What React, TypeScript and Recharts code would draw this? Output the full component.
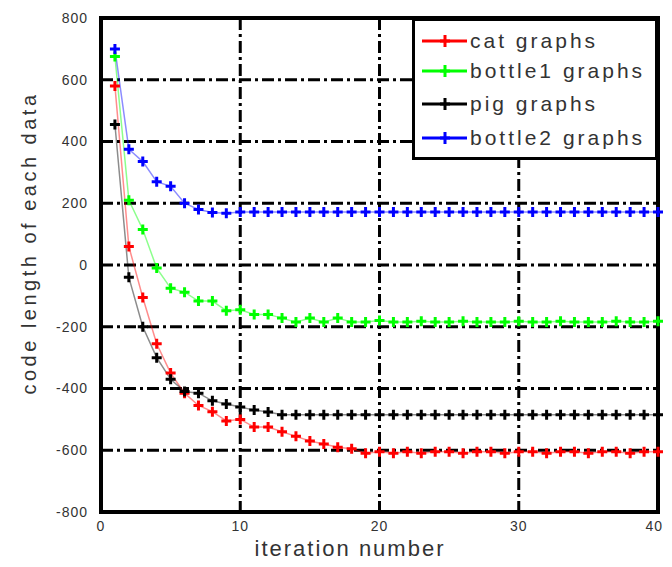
import React from "react";
import {
  LineChart,
  Line,
  XAxis,
  YAxis,
  CartesianGrid,
  ReferenceArea,
} from "recharts";

const iterations = [
  1, 2, 3, 4, 5, 6, 7, 8, 9, 10, 11, 12, 13, 14, 15, 16, 17, 18, 19, 20,
  21, 22, 23, 24, 25, 26, 27, 28, 29, 30, 31, 32, 33, 34, 35, 36, 37, 38, 39, 40,
];

const catGraphs = [
  580, 60, -105, -255, -350, -415, -455, -475, -505, -500,
  -525, -525, -540, -555, -570, -580, -590, -595, -610, -605,
  -610, -605, -610, -605, -605, -610, -605, -605, -610, -605,
  -605, -610, -605, -605, -610, -605, -605, -610, -605, -605,
];

const bottle1Graphs = [
  675, 210, 115, -10, -75, -88, -117, -117, -148, -145,
  -160, -160, -172, -185, -172, -185, -172, -185, -185, -180,
  -185, -185, -182, -185, -185, -182, -185, -185, -185, -182,
  -185, -185, -182, -185, -185, -185, -182, -185, -185, -182,
];

const pigGraphs = [
  455, -40, -200, -300, -370, -410, -415, -440, -450, -460,
  -470, -476, -485, -485, -485, -485, -485, -485, -485, -485,
  -485, -485, -485, -485, -485, -485, -485, -485, -485, -485,
  -485, -485, -485, -485, -485, -485, -485, -485, -485, -485,
];

const bottle2Graphs = [
  700, 375, 335, 270, 255, 200, 180, 170, 168, 172,
  172, 172, 172, 172, 172, 172, 172, 172, 172, 172,
  172, 172, 172, 172, 172, 172, 172, 172, 172, 172,
  172, 172, 172, 172, 172, 172, 172, 172, 172, 172,
];

const xTicks = [0, 10, 20, 30, 40];
const yTicks = [-800, -600, -400, -200, 0, 200, 400, 600, 800];

const series = [
  { key: "cat", name: "cat graphs", color: "#ff0000" },
  { key: "bottle1", name: "bottle1 graphs", color: "#00ff00" },
  { key: "pig", name: "pig graphs", color: "#000000" },
  { key: "bottle2", name: "bottle2 graphs", color: "#0000ff" },
];

const data = iterations.map((it, i) => ({
  iter: it,
  cat: catGraphs[i],
  bottle1: bottle1Graphs[i],
  pig: pigGraphs[i],
  bottle2: bottle2Graphs[i],
}));

const FONT = "'Liberation Sans', Arial, sans-serif";

function plusDot(color: string) {
  return (p: any) => {
    const { cx, cy, index } = p;
    if (cx == null || cy == null) return <g key={`d-${index}`} />;
    const r = 5;
    return (
      <path
        key={`d-${color}-${index}`}
        d={`M${cx - r},${cy}H${cx + r}M${cx},${cy - r}V${cy + r}`}
        stroke={color}
        strokeWidth={3}
        fill="none"
      />
    );
  };
}

// x tick: keep the last label inside the page edge
function XTick(props: any) {
  const { x, y, payload, index } = props;
  const last = index === xTicks.length - 1;
  return (
    <text
      x={last ? x + 5 : x}
      y={y}
      dy="0.71em"
      textAnchor={last ? "end" : "middle"}
      fontFamily={FONT}
      fontSize={14}
      letterSpacing={1}
      fill="#333"
    >
      {payload.value}
    </text>
  );
}

// legend drawn as an overlay so it doesn't eat chart space
function LegendBox() {
  return (
    <div
      style={{
        position: "absolute",
        left: 404,
        top: 10,
        boxSizing: "border-box",
        width: 246,
        height: 142,
        border: "3px solid #000",
        background: "#fff",
        fontFamily: FONT,
        fontSize: 21,
        letterSpacing: 3,
        color: "#333",
      }}
    >
      {series.map((s, i) => (
        <div
          key={s.key}
          style={{
            position: "absolute",
            left: 5,
            top: [20, 50, 83, 117][i] - 14,
            height: 28,
            display: "flex",
            alignItems: "center",
            whiteSpace: "nowrap",
          }}
        >
          <svg width={48} height={28} style={{ marginRight: 2 }}>
            <line x1={2} y1={14} x2={47} y2={14} stroke={s.color} strokeWidth={3} />
            <path d="M25,8V20M20,14H30" stroke={s.color} strokeWidth={3} />
          </svg>
          <span>{s.name}</span>
        </div>
      ))}
    </div>
  );
}

function YLabel() {
  return (
    <text
      x={21}
      y={235}
      transform="rotate(-90, 21, 235)"
      textAnchor="middle"
      dominantBaseline="central"
      fontFamily={FONT}
      fontSize={20}
      letterSpacing={3.5}
      fill="#333"
    >
      code length of each data
    </text>
  );
}

function XLabel() {
  return (
    <text
      x={342}
      y={540}
      textAnchor="middle"
      dominantBaseline="central"
      fontFamily={FONT}
      fontSize={22}
      letterSpacing={2}
      fill="#333"
    >
      iteration number
    </text>
  );
}

export default function App() {
  const tickStyle = { fontFamily: FONT, fontSize: 14, fill: "#333", letterSpacing: 1 };
  return (
    <div style={{ position: "relative", width: 664, height: 551, background: "#fff" }}>
      <LineChart
        width={664}
        height={551}
        data={data}
        margin={{ top: 10, right: 14, left: 0, bottom: 0 }}
      >
        <CartesianGrid
          stroke="#000"
          strokeWidth={3}
          strokeDasharray="12 4 3 4"
        />
        <XAxis
          dataKey="iter"
          type="number"
          domain={[0, 40]}
          ticks={xTicks}
          height={47}
          axisLine={false}
          tickLine={false}
          tickSize={6}
          tickMargin={3}
          tick={<XTick />}
          label={<XLabel />}
        />
        <YAxis
          type="number"
          domain={[-800, 800]}
          ticks={yTicks}
          width={93}
          axisLine={false}
          tickLine={false}
          tickSize={8}
          tickMargin={5}
          tick={tickStyle}
          label={<YLabel />}
        />
        <ReferenceArea
          x1={0}
          x2={40}
          y1={-800}
          y2={800}
          fill="none"
          stroke="#000"
          strokeWidth={4}
          ifOverflow="visible"
        />
        {series.map((s) => (
          <Line
            key={s.key}
            type="linear"
            dataKey={s.key}
            name={s.name}
            stroke={s.color}
            strokeWidth={1.5}
            strokeOpacity={0.45}
            dot={plusDot(s.color)}
            activeDot={false}
            isAnimationActive={false}
          />
        ))}
      </LineChart>
      <LegendBox />
    </div>
  );
}
